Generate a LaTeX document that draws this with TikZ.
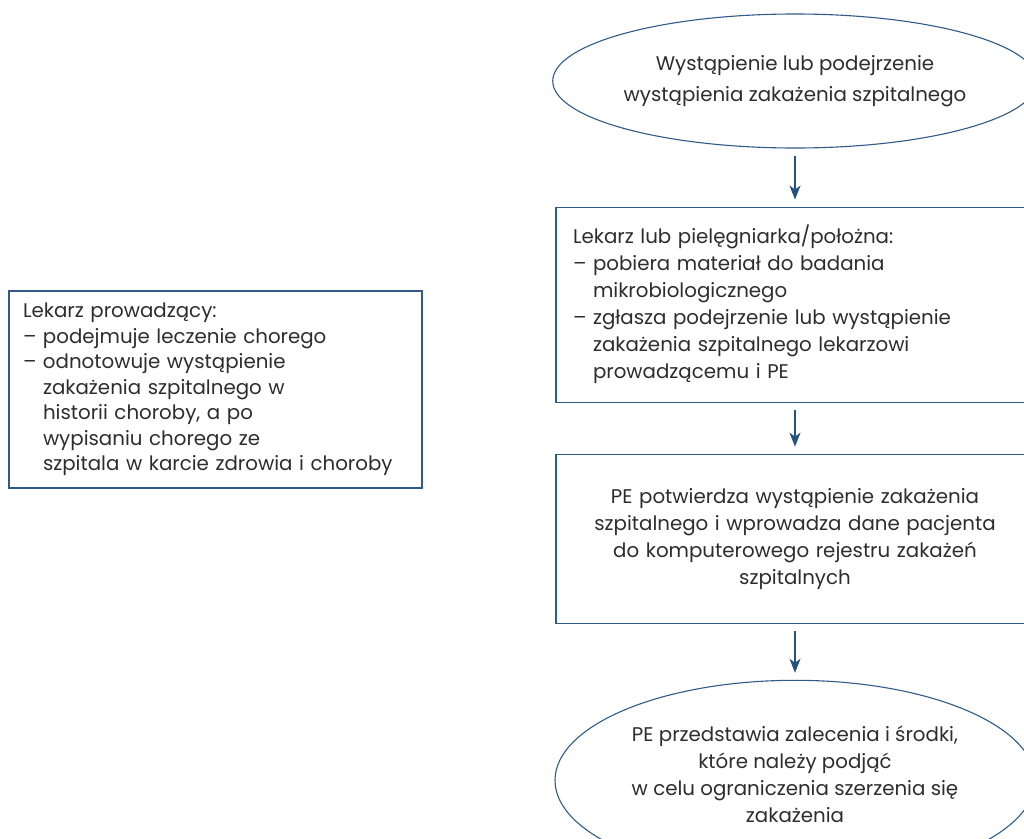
\documentclass[tikz,border=0pt]{standalone}
\usepackage{fontspec}
\setmainfont{Poppins}
\usetikzlibrary{arrows.meta, positioning, shapes.geometric}

\definecolor{lineblue}{RGB}{48,90,136}
\definecolor{arrowblue}{RGB}{38,82,128}
\definecolor{txtgray}{RGB}{45,45,45}
\newcommand{\ind}{\hphantom{– }}

\begin{document}
\begin{tikzpicture}[x=1pt, y=-1pt, node distance=55pt,
    every node/.style={draw=lineblue, line width=1.1pt, text=txtgray,
      font=\fontsize{19.8}{27}\selectfont},
    oval/.style={ellipse, inner sep=0pt, minimum width=480pt, align=center},
    stepbox/.style={rectangle, inner sep=0pt, minimum width=478pt, text width=444pt},
    flow/.style={draw=arrowblue, line width=1.1pt, -{Stealth[length=14pt, width=11pt, inset=4pt]},
      shorten <=7pt, shorten >=7pt}]
    \useasboundingbox (0,0) rectangle (1024,838);

    % Top node
    \node (start) [oval, minimum height=134pt, font=\fontsize{19.8}{31}\selectfont] at (795,81)
      {Wystąpienie lub podejrzenie\\wystąpienia zakażenia szpitalnego};
    % Reporting box
    \node (report) [stepbox, minimum height=195pt, align=left, below=58pt of start]
      {Lekarz lub pielęgniarka/położna:\\
       – pobiera materiał do badania\\
       \ind mikrobiologicznego\\
       – zgłasza podejrzenie lub wystąpienie\\
       \ind zakażenia szpitalnego lekarzowi\\
       \ind prowadzącemu i PE};
    % Confirmation box
    \node (confirm) [stepbox, minimum height=169pt, align=center, below=51pt of report]
      {PE potwierdza wystąpienie zakażenia\\
       szpitalnego i wprowadza dane pacjenta\\
       do komputerowego rejestru zakażeń\\
       szpitalnych};
    % Bottom node
    \node (advice) [oval, minimum height=200pt, below=56pt of confirm]
      {PE przedstawia zalecenia i środki,\\
       które należy podjąć\\
       w celu ograniczenia szerzenia się\\
       zakażenia\\[-15pt]};
    % Left node
    \node (doctor) [rectangle, inner sep=0pt, minimum width=413pt, minimum height=197pt,
      text width=385pt, align=left, font=\fontsize{19.8}{25.5}\selectfont] at (215.5,389.5)
      {Lekarz prowadzący:\\
       – podejmuje leczenie chorego\\
       – odnotowuje wystąpienie\\
       \ind zakażenia szpitalnego w\\
       \ind historii choroby, a po\\
       \ind wypisaniu chorego ze\\
       \ind szpitala w karcie zdrowia i choroby};

    % Edges
    \draw [flow] (start) -- (report);
    \draw [flow] (report) -- (confirm);
    \draw [flow] (confirm) -- (advice);
\end{tikzpicture}
\end{document}
